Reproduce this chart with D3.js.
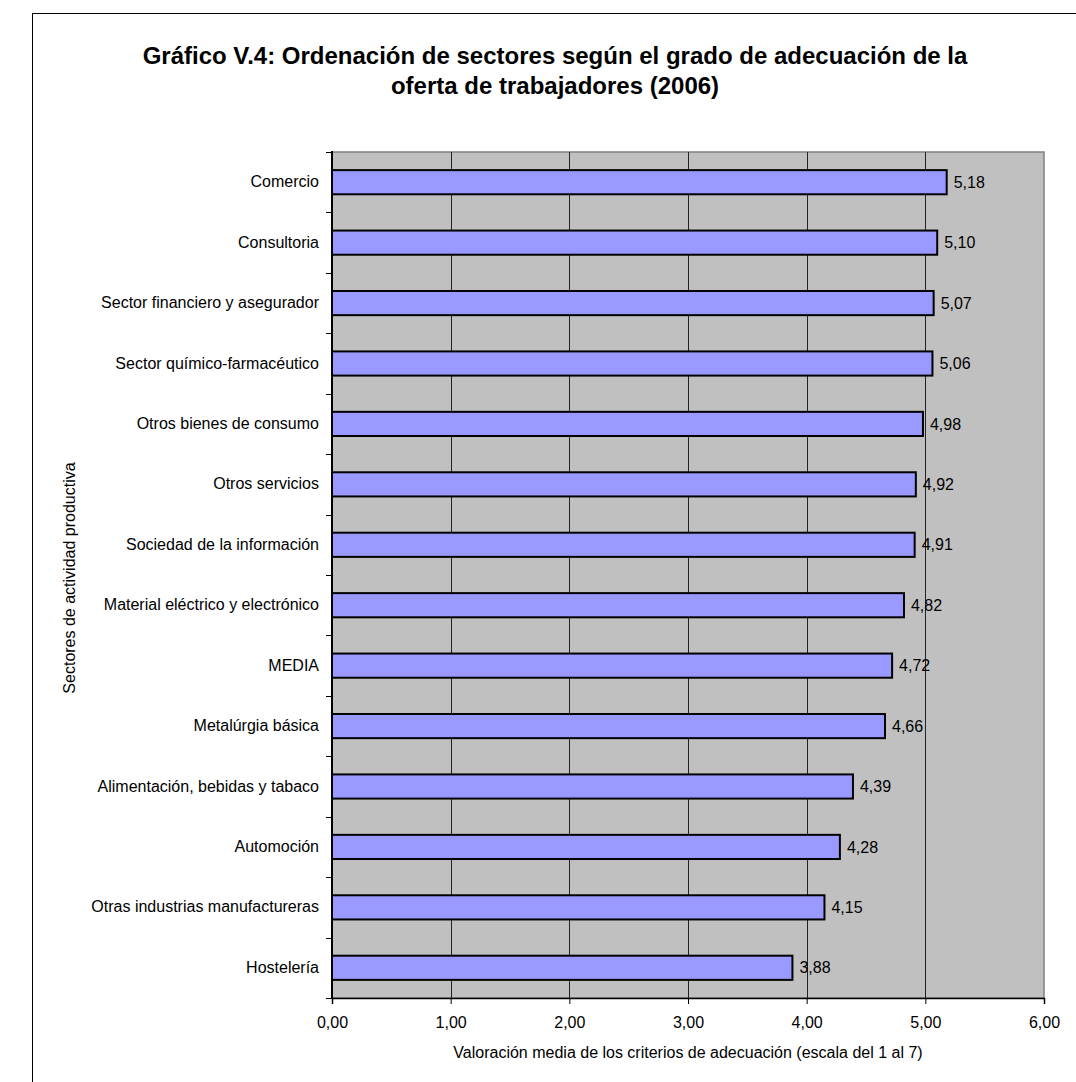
<!DOCTYPE html>
<html><head><meta charset="utf-8">
<script src="https://cdn.jsdelivr.net/npm/d3@7"></script>
<style>html,body{margin:0;padding:0;background:#fff;}svg{display:block;font-family:Arial,"Liberation Sans",sans-serif;}</style>
</head><body>
<script>
const categories = ["Comercio","Consultoria","Sector financiero y asegurador","Sector químico-farmacéutico","Otros bienes de consumo","Otros servicios","Sociedad de la información","Material eléctrico y electrónico","MEDIA","Metalúrgia básica","Alimentación, bebidas y tabaco","Automoción","Otras industrias manufactureras","Hostelería"];
const values = [5.18,5.10,5.07,5.06,4.98,4.92,4.91,4.82,4.72,4.66,4.39,4.28,4.15,3.88];
const xTicks = [0,1,2,3,4,5,6];
const titleLines = ["Gráfico V.4: Ordenación de sectores según el grado de adecuación de la","oferta de trabajadores (2006)"];
const xTitle = "Valoración media de los criterios de adecuación (escala del 1 al 7)";
const yTitle = "Sectores de actividad productiva";

const W=1076,H=1082;
const FF="Arial,'Liberation Sans',sans-serif";
const svg=d3.select("body").append("svg").attr("width",W).attr("height",H);
svg.append("rect").attr("x",32.5).attr("y",13.5).attr("width",W+10).attr("height",H+10).attr("fill","#fff").attr("stroke","#000").attr("stroke-width",1);

const L=332,R=1044,T=152,B=998;
const x=d3.scaleLinear().domain([0,6]).range([L,R]);
const y=d3.scaleBand().domain(categories).range([T,B]).paddingInner(0.6).paddingOuter(0.3);
const yb=d3.scaleBand().domain(categories).range([T,B]);
const fmt=v=>d3.format(".2f")(v).replace(".",",");

svg.append("rect").attr("x",L).attr("y",T).attr("width",R-L).attr("height",B-T).attr("fill","#C0C0C0").attr("stroke","#808080").attr("stroke-width",1.5);

svg.append("g").selectAll("line").data(xTicks.filter(d=>d>0&&d<6)).join("line")
 .attr("x1",d=>Math.round(x(d))+0.5).attr("x2",d=>Math.round(x(d))+0.5).attr("y1",T).attr("y2",B)
 .attr("stroke","#222").attr("stroke-width",1);

svg.append("g").selectAll("rect").data(values).join("rect")
 .attr("x",x(0)).attr("y",(d,i)=>y(categories[i])).attr("width",d=>x(d)-x(0)).attr("height",y.bandwidth())
 .attr("fill","#9999FF").attr("stroke","#000").attr("stroke-width",2);

svg.append("g").selectAll("text").data(values).join("text")
 .attr("x",d=>x(d)+7).attr("y",(d,i)=>y(categories[i])+y.bandwidth()/2).attr("dy","0.35em")
 .attr("font-size",16).attr("fill","#000").text(d=>fmt(d));

// x axis
const xa=svg.append("g").attr("transform",`translate(0,${B})`)
 .call(d3.axisBottom(x).tickValues(xTicks).tickSize(6).tickFormat(fmt));
xa.select(".domain").attr("stroke","#000").attr("stroke-width",1.5);
xa.selectAll(".tick line").attr("stroke","#000");
xa.selectAll("text").attr("font-size",16).attr("font-family",FF).attr("fill","#000").attr("dy","0").attr("y",30);

// y axis
const ya=svg.append("g").attr("transform",`translate(${L},0)`)
 .call(d3.axisLeft(yb).tickSize(0).tickPadding(13));
ya.select(".domain").attr("stroke","#000").attr("stroke-width",2).attr("d",`M0,${T-1}V${B}`);
ya.selectAll("text").attr("font-size",16).attr("font-family",FF).attr("fill","#000");
svg.append("g").selectAll("line").data(d3.range(categories.length+1)).join("line")
 .attr("x1",L-6).attr("x2",L).attr("y1",i=>Math.round(T+i*yb.step())+0.5).attr("y2",i=>Math.round(T+i*yb.step())+0.5)
 .attr("stroke","#000").attr("stroke-width",1);

svg.append("g").selectAll("text").data(titleLines).join("text")
 .attr("x",555).attr("y",(d,i)=>64+i*30).attr("text-anchor","middle")
 .attr("font-size",24).attr("font-weight","bold").attr("fill","#000").text(d=>d);

svg.append("text").attr("x",(L+R)/2).attr("y",1058).attr("text-anchor","middle").attr("font-size",16).attr("fill","#000").text(xTitle);
svg.append("text").attr("transform",`translate(75,${(T+B)/2+3}) rotate(-90)`).attr("text-anchor","middle").attr("font-size",16).attr("fill","#000").text(yTitle);
</script>
</body></html>
